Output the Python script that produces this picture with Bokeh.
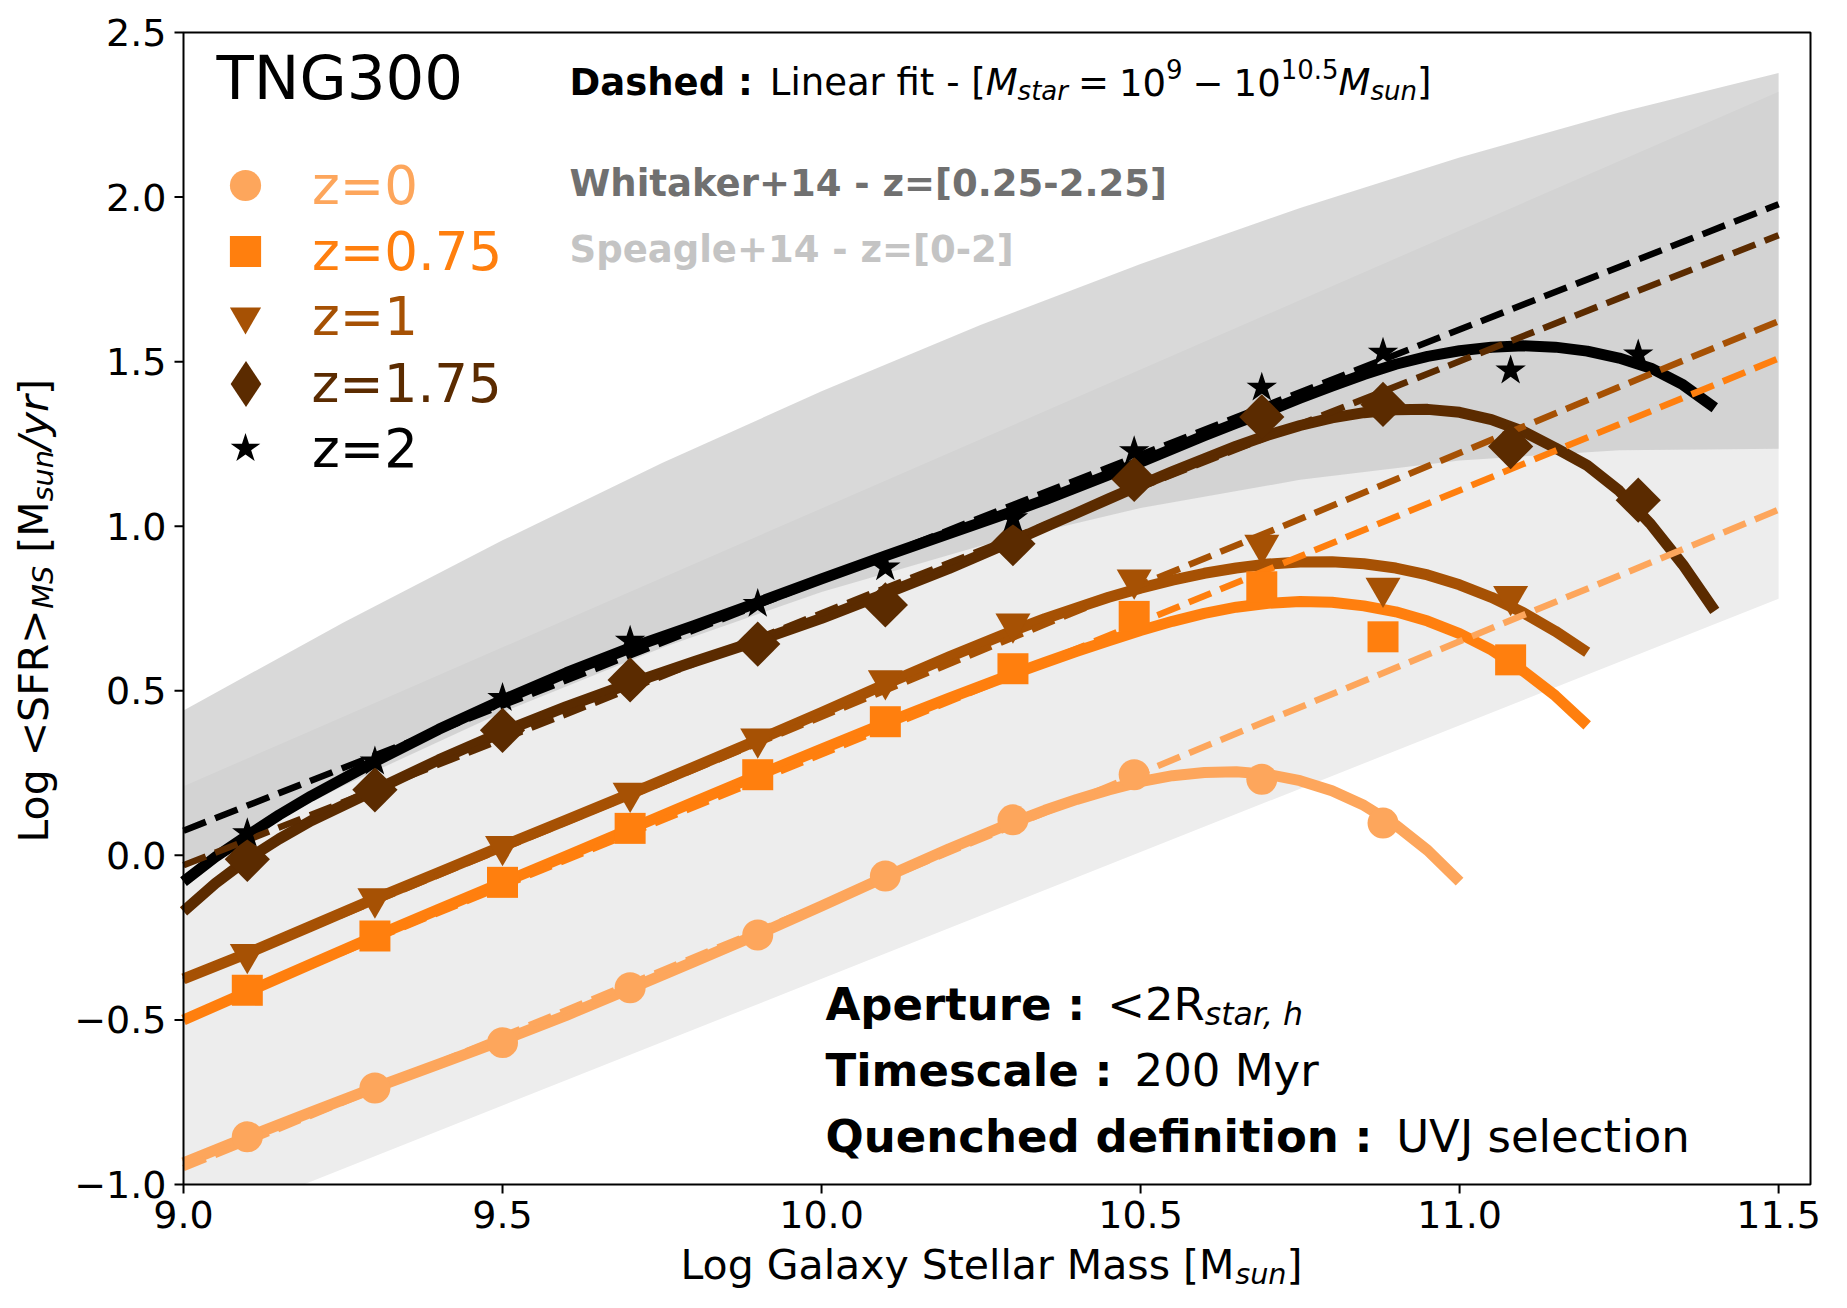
import numpy as np
from math import pi
from bokeh.plotting import figure
from bokeh.models import Range1d, Label, Legend, LegendItem
from bokeh.core.properties import value
from bokeh.embed import file_html
from bokeh.resources import INLINE

# ---------------- data ----------------
mass_bins = [9.1, 9.3, 9.5, 9.7, 9.9, 10.1, 10.3, 10.49, 10.69, 10.88, 11.08, 11.28]
redshift_labels = ["z=0", "z=0.75", "z=1", "z=1.75", "z=2"]

sfr_z0 = [-0.855, -0.707, -0.569, -0.402, -0.242, -0.063, 0.108, 0.245, 0.231, 0.098]
sfr_z075 = [-0.41, -0.245, -0.082, 0.082, 0.245, 0.406, 0.567, 0.726, 0.816, 0.664, 0.594]
sfr_z1 = [-0.30, -0.131, 0.028, 0.19, 0.355, 0.532, 0.704, 0.838, 0.943, 0.813, 0.788]
sfr_z175 = [-0.012, 0.199, 0.380, 0.533, 0.642, 0.761, 0.947, 1.142, 1.332, 1.370, 1.242, 1.079]
sfr_z2 = [0.067, 0.285, 0.478, 0.652, 0.764, 0.875, 1.024, 1.228, 1.421, 1.527, 1.473, 1.522]

# smooth fit curves
fit_mass_z0 = [9.0, 9.1, 9.2, 9.3, 9.4, 9.5, 9.6, 9.7, 9.8, 9.9, 10.0, 10.1, 10.2, 10.3,
               10.35, 10.4, 10.45, 10.5, 10.55, 10.6, 10.65, 10.7, 10.75, 10.8, 10.85, 10.9,
               10.95, 11.0]
fit_z0 = [-0.934, -0.856, -0.780, -0.706, -0.634, -0.562, -0.486, -0.405, -0.323, -0.240,
          -0.154, -0.066, 0.020, 0.100, 0.137, 0.170, 0.199, 0.224, 0.242, 0.252, 0.254,
          0.246, 0.227, 0.196, 0.152, 0.092, 0.015, -0.080]
fit_mass_z075 = [9.0, 9.1, 9.2, 9.3, 9.4, 9.5, 9.6, 9.7, 9.8, 9.9, 10.0, 10.1, 10.2, 10.3,
                 10.35, 10.4, 10.45, 10.5, 10.55, 10.6, 10.65, 10.7, 10.75, 10.8, 10.85,
                 10.9, 10.95, 11.0, 11.05, 11.1, 11.15, 11.2]
fit_z075 = [-0.50, -0.415, -0.330, -0.246, -0.164, -0.083, -0.002, 0.080, 0.162, 0.243,
            0.323, 0.402, 0.478, 0.551, 0.586, 0.620, 0.652, 0.683, 0.711, 0.735, 0.754,
            0.766, 0.771, 0.769, 0.758, 0.740, 0.712, 0.674, 0.624, 0.560, 0.485, 0.395]
fit_mass_z1 = fit_mass_z075
fit_z1 = [-0.375, -0.298, -0.215, -0.132, -0.052, 0.028, 0.107, 0.187, 0.268, 0.350, 0.434,
          0.520, 0.603, 0.682, 0.719, 0.752, 0.784, 0.812, 0.836, 0.857, 0.873, 0.885,
          0.891, 0.892, 0.886, 0.873, 0.852, 0.822, 0.784, 0.737, 0.681, 0.617]
fit_mass_z175 = [9.0, 9.05, 9.1, 9.15, 9.2, 9.3, 9.4, 9.5, 9.6, 9.7, 9.8, 9.9, 10.0, 10.1,
                 10.2, 10.3, 10.35, 10.4, 10.45, 10.5, 10.55, 10.6, 10.65, 10.7, 10.75, 10.8,
                 10.85, 10.9, 10.95, 11.0, 11.05, 11.1, 11.15, 11.2, 11.25, 11.3, 11.35, 11.4]
fit_z175 = [-0.17, -0.085, -0.012, 0.05, 0.105, 0.198, 0.29, 0.375, 0.452, 0.522, 0.588,
            0.652, 0.72, 0.795, 0.872, 0.955, 0.998, 1.04, 1.083, 1.125, 1.166, 1.205, 1.243,
            1.277, 1.306, 1.329, 1.345, 1.354, 1.355, 1.346, 1.324, 1.288, 1.238, 1.185,
            1.108, 1.005, 0.883, 0.743]
fit_mass_z2 = fit_mass_z175
fit_z2 = [-0.08, -0.005, 0.06, 0.123, 0.18, 0.285, 0.383, 0.472, 0.555, 0.63, 0.698, 0.768,
          0.84, 0.91, 0.978, 1.045, 1.08, 1.118, 1.156, 1.195, 1.235, 1.275, 1.313, 1.35,
          1.389, 1.426, 1.461, 1.492, 1.516, 1.533, 1.544, 1.548, 1.544, 1.532, 1.511, 1.480,
          1.430, 1.36]

# dashed linear fits (end points)
lin_mass = [9.0, 11.5]
lin_z0 = [-0.95, 1.05]
lin_z075 = [-0.495, 1.51]
lin_z1 = [-0.38, 1.623]
lin_z175 = [-0.03, 1.884]
lin_z2 = [0.075, 1.978]

# observational bands
whitaker_mass = [9.0, 9.25, 9.5, 9.75, 10.0, 10.25, 10.5, 10.75, 11.0, 11.25, 11.5]
whitaker_low = [-0.04, 0.211, 0.435, 0.631, 0.80, 0.941, 1.055, 1.141, 1.20, 1.231, 1.235]
whitaker_high = [0.44, 0.707, 0.957, 1.192, 1.41, 1.612, 1.797, 1.967, 2.12, 2.257, 2.377]
speagle_mass = [9.0, 11.5]
speagle_low = [-1.145, 0.78]
speagle_high = [0.21, 2.32]

x_ticks = [9.0, 9.5, 10.0, 10.5, 11.0, 11.5]
y_ticks = [-1.0, -0.5, 0.0, 0.5, 1.0, 1.5, 2.0, 2.5]

colors = ["#fda65c", "#ff7f0e", "#a65104", "#5b2b00", "#000000"]

# ---------------- layout constants ----------------
W, H = 1847, 1308
FL, FR, FT, FB = 183, 1810, 32, 1184          # axes box in canvas pixels
X0, X1, Y0, Y1 = 9.0, 11.55, -1.0, 2.5          # axes limits
FONT = "DejaVu Sans"
PPX = (FR - FL) / (X1 - X0)
PPY = (FB - FT) / (Y1 - Y0)


def dx(X):
    return X0 + (X - FL) / PPX


def dy(Y):
    return Y1 - (Y - FT) / PPY


REG = {' ': 651, '!': 821, '+': 1716, ',': 651, '-': 739, '.': 651, '/': 690, ':': 690,
       '<': 1716, '=': 1716, '>': 1716, '[': 799, ']': 799, '\u2212': 1716, '(': 799, ')': 799,
       'A': 1401, 'B': 1405, 'C': 1430, 'D': 1577, 'E': 1294, 'F': 1178, 'G': 1587, 'H': 1540,
       'I': 604, 'J': 604, 'K': 1343, 'L': 1141, 'M': 1767, 'N': 1532, 'O': 1612, 'P': 1235,
       'Q': 1612, 'R': 1423, 'S': 1300, 'T': 1251, 'U': 1499, 'V': 1401, 'W': 2025, 'X': 1403,
       'Y': 1251, 'Z': 1403, 'a': 1255, 'b': 1300, 'c': 1126, 'd': 1300, 'e': 1260, 'f': 721,
       'g': 1300, 'h': 1298, 'i': 569, 'j': 569, 'k': 1186, 'l': 569, 'm': 1995, 'n': 1298,
       'o': 1253, 'p': 1300, 'q': 1300, 'r': 842, 's': 1067, 't': 803, 'u': 1298, 'v': 1212,
       'w': 1675, 'x': 1212, 'y': 1212, 'z': 1075}
for d in "0123456789":
    REG[d] = 1303
BOLD = {' ': 713, ':': 819, '+': 1716, '-': 852, '.': 780, '=': 1716, '[': 934, ']': 934,
        'A': 1585, 'D': 1700, 'Q': 1741, 'S': 1479, 'T': 1399, 'W': 2335,
        'a': 1382, 'c': 1214, 'd': 1466, 'e': 1389, 'f': 889, 'g': 1466, 'h': 1458, 'i': 702,
        'k': 1358, 'l': 702, 'm': 2134, 'n': 1458, 'o': 1407, 'p': 1466, 'r': 1010, 's': 1219,
        't': 979, 'u': 1458, 'z': 1186}
for d in "0123456789":
    BOLD[d] = 1425


def text_width(s, size, bold=False):
    tab = BOLD if bold else REG
    return sum(tab.get(c, 1300) for c in s) * size / 2048.0


def place_runs(p, X, Y, runs, color="black", rotate=False):
    off = 0.0
    for r in runs:
        if r[0] == "gap":
            off += r[1]
            continue
        text, size, bold, italic, shift = r
        style = "bold" if bold else ("italic" if italic else "normal")
        kw = dict(x=dx(X), y=dy(Y), text=text, text_font=FONT,
                  text_font_size=f"{size:.1f}px", text_font_style=style,
                  text_color=color, text_align="left", text_baseline="alphabetic")
        if rotate:
            kw.update(x_offset=-shift, y_offset=off, angle=pi / 2)
        else:
            kw.update(x_offset=off, y_offset=shift)
        p.add_layout(Label(**kw))
        off += text_width(text, size, bold)


def tick_text(t):
    return f"{t:.1f}".replace("-", "\u2212")


# ---------------- figure (frame = whole canvas, axes drawn from the tick arrays) ----------
p = figure(width=W, height=H,
           x_range=Range1d(X0 - FL / PPX, X1 + (W - FR) / PPX),
           y_range=Range1d(Y0 - (H - FB) / PPY, Y1 + FT / PPY),
           x_axis_type=None, y_axis_type=None,
           output_backend="svg", toolbar_location=None,
           min_border_left=0, min_border_right=0, min_border_top=0, min_border_bottom=0)
p.outline_line_color = None
p.background_fill_color = "white"
p.border_fill_color = "white"

# bands (Speagle band clipped at the lower axis limit)
sp_cross = float(np.interp(Y0, speagle_low, speagle_mass))
sp_x = [speagle_mass[0], sp_cross, speagle_mass[1]]
sp_lo = [Y0, Y0, speagle_low[1]]
sp_hi = list(np.interp(sp_x, speagle_mass, speagle_high))
p.varea(x=sp_x, y1=sp_lo, y2=sp_hi, fill_color="#ededed", fill_alpha=1.0)
p.varea(x=whitaker_mass, y1=whitaker_low, y2=whitaker_high, fill_color="#c6c6c6",
        fill_alpha=0.667)

# solid fits
fits = [(fit_mass_z0, fit_z0), (fit_mass_z075, fit_z075), (fit_mass_z1, fit_z1),
        (fit_mass_z175, fit_z175), (fit_mass_z2, fit_z2)]
for (fx, fy), c in zip(fits, colors):
    p.line(fx, fy, line_width=11, line_color=c, line_join="round")

# dashed linear fits
for ly, c in zip([lin_z0, lin_z075, lin_z1, lin_z175, lin_z2], colors):
    p.line(lin_mass, ly, line_width=6.5, line_color=c, line_dash="24 10")

# markers
series = [sfr_z0, sfr_z075, sfr_z1, sfr_z175, sfr_z2]
markers = ["circle", "square", "inverted_triangle", "square", "star"]
sizes = [31, 31, 35, 32, 32]
angles = [0, 0, 0, pi / 4, 0]
marker_renderers = []
for s, m, sz, a, c in zip(series, markers, sizes, angles, colors):
    r = p.scatter(mass_bins[:len(s)], s, marker=m, size=sz, angle=a,
                  fill_color=c, line_color=c, line_width=0)
    marker_renderers.append(r)
# legend key for the diamonds (legend keys are drawn unrotated); NaN point = nothing in plot
diamond_key = p.scatter([float("nan")], [float("nan")], marker="diamond", size=46,
                        fill_color=colors[3], line_color=colors[3], line_width=0)
legend_renderers = marker_renderers[:3] + [diamond_key] + marker_renderers[4:]

# axes box, ticks and tick labels
p.quad(left=[X0], right=[X1], bottom=[Y0], top=[Y1], fill_color=None,
       line_color="black", line_width=2)
p.ray(x=x_ticks, y=[Y0] * len(x_ticks), length=9, length_units="screen", angle=-pi / 2,
      line_color="black", line_width=2)
p.ray(x=[X0] * len(y_ticks), y=y_ticks, length=9, length_units="screen", angle=pi,
      line_color="black", line_width=2)
p.text(x=x_ticks, y=[Y0] * len(x_ticks), text=[tick_text(t) for t in x_ticks],
       text_align="center", text_baseline="top", y_offset=16,
       text_font=value(FONT), text_font_size=value("38px"), text_color="black")
p.text(x=[X0] * len(y_ticks), y=y_ticks, text=[tick_text(t) for t in y_ticks],
       text_align="right", text_baseline="middle", x_offset=-17,
       text_font=value(FONT), text_font_size=value("38px"), text_color="black")

# one legend per entry so each label gets its own colour
legend_center_Y = [185, 251, 316, 383, 448]
g = 78
for rend, lab, col, Yc in zip(legend_renderers, redshift_labels, colors, legend_center_Y):
    gg = 115 if rend is diamond_key else g
    lg = Legend(items=[LegendItem(label=lab, renderers=[rend])],
                location=(245 - gg / 2, (H - Yc) - gg / 2),
                glyph_width=gg, glyph_height=gg, label_standoff=int(312 - 245 - gg / 2),
                padding=0, margin=0, spacing=0, label_height=gg,
                border_line_color=None, background_fill_alpha=0,
                label_text_font=FONT, label_text_font_size="53px",
                label_text_color=col, label_text_baseline="middle")
    p.add_layout(lg)

# texts
place_runs(p, 216, 77, [("TNG300", 61, False, False, 0)])
place_runs(p, 569, 82, [
    ("Dashed :", 37, True, False, 0), ("gap", 17),
    ("Linear fit - [", 37, False, False, 0),
    ("M", 37, False, True, 0), ("star", 26, False, True, -8), ("gap", 10),
    ("=", 37, False, False, 0), ("gap", 10),
    ("10", 37, False, False, 0), ("9", 26, False, False, 14), ("gap", 10),
    ("\u2212", 37, False, False, 0), ("gap", 10),
    ("10", 37, False, False, 0), ("10.5", 26, False, False, 14),
    ("M", 37, False, True, 0), ("sun", 26, False, True, -8),
    ("]", 37, False, False, 0)])
place_runs(p, 569, 183, [("Whitaker+14 - z=[0.25-2.25]", 37, True, False, 0)], color="#707070")
place_runs(p, 569, 249, [("Speagle+14 - z=[0-2]", 37, True, False, 0)], color="#c4c4c4")

place_runs(p, 825, 1004, [("Aperture :", 45, True, False, 0), ("gap", 22),
                          ("<2R", 45, False, False, 0), ("star, h", 31.5, False, True, -9)])
place_runs(p, 825, 1070, [("Timescale :", 45, True, False, 0), ("gap", 22),
                          ("200 Myr", 45, False, False, 0)])
place_runs(p, 825, 1136, [("Quenched definition :", 45, True, False, 0), ("gap", 22),
                          ("UVJ selection", 45, False, False, 0)])

# axis labels
place_runs(p, 680, 1264, [("Log Galaxy Stellar Mass [M", 41, False, False, 0),
                          ("sun", 28.7, False, True, -9), ("]", 41, False, False, 0)])
place_runs(p, 33, 842, [("Log <SFR>", 41, False, False, 0), ("MS", 28.7, False, True, -9),
                        ("gap", 13), ("[M", 41, False, False, 0),
                        ("sun", 28.7, False, True, -9), ("/yr", 41, False, True, 0),
                        ("]", 41, False, False, 0)], rotate=True)

open("out.html", "w").write(file_html(p, INLINE))
